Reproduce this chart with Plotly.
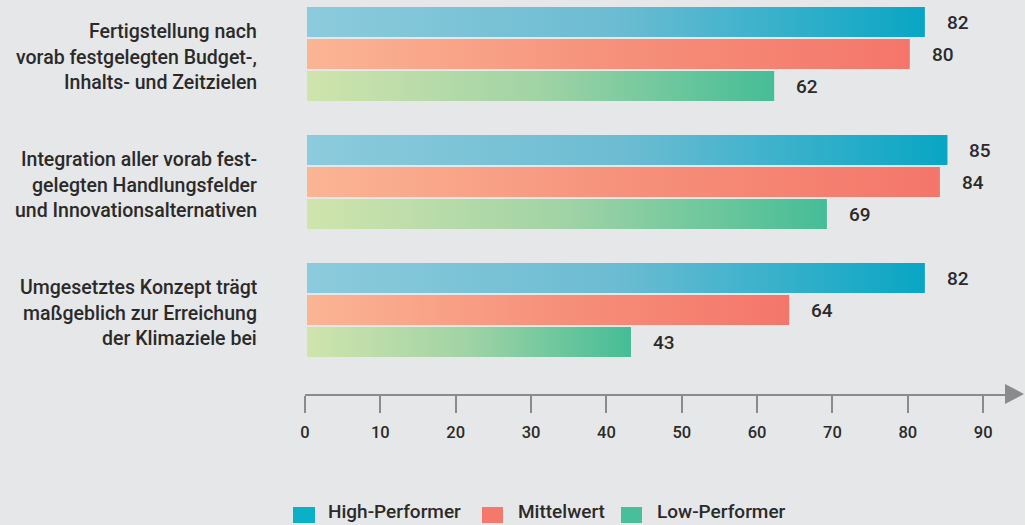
import plotly.graph_objects as go

# Data
categories = [
    "Fertigstellung nach<br>vorab festgelegten Budget-,<br>Inhalts- und Zeitzielen",
    "Integration aller vorab fest-<br>gelegten Handlungsfelder<br>und Innovationsalternativen",
    "Umgesetztes Konzept trägt<br>maßgeblich zur Erreichung<br>der Klimaziele bei",
]
series_names = ["High-Performer", "Mittelwert", "Low-Performer"]
high_performer = [82, 85, 82]
mittelwert = [80, 84, 64]
low_performer = [62, 69, 43]
tick_values = [0, 10, 20, 30, 40, 50, 60, 70, 80, 90]

series_values = [high_performer, mittelwert, low_performer]

# Styling
W, H = 1025, 525
ML, MR, MT, MB = 305, 15, 0, 131
PX_PER_UNIT = 7.535
BAR_INSET_PX = 2          # bars begin just right of the axis origin
BG = "#e6e7e9"
TEXT = "#2b2a29"
AXIS = "#8a8b8d"
FONT = "Roboto"

gradients = [
    [[0, "#8ccbdc"], [0.5, "#6cbcd2"], [1, "#08a6c4"]],
    [[0, "#fbb594"], [0.5, "#f6917b"], [1, "#f4766a"]],
    [[0, "#d0e4ad"], [0.5, "#a0d3a5"], [1, "#45bd96"]],
]
legend_colors = ["#0ab1c6", "#f4786c", "#48bf9b"]

GROUP_PITCH = 4      # y units between category groups
BAR_HEIGHT = 0.9375  # y units (1 unit = one bar slot)

plot_w = W - ML - MR
plot_h = H - MT - MB
x_max = plot_w / PX_PER_UNIT
inset = BAR_INSET_PX / PX_PER_UNIT
slot_px = 32
top_center_px = 22
y_top = -top_center_px / slot_px
y_bottom = y_top + plot_h / slot_px

fig = go.Figure()

# Empty trace that registers the tick axis (x) with the subplot
fig.add_trace(go.Scatter(x=[0], y=[0], xaxis="x", yaxis="y", mode="none",
                         hoverinfo="skip", showlegend=False))

# Horizontal gradient bars, one trace per bar so each gets its own gradient
for g, cat in enumerate(categories):
    for s, vals in enumerate(series_values):
        v = vals[g]
        yc = g * GROUP_PITCH + s
        y0, y1 = yc - BAR_HEIGHT / 2, yc + BAR_HEIGHT / 2
        fig.add_trace(go.Scatter(
            x=[0, v, v, 0, 0],
            y=[y0, y0, y1, y1, y0],
            xaxis="x2", yaxis="y",
            mode="lines",
            fill="toself",
            fillgradient=dict(type="horizontal", colorscale=gradients[s]),
            line=dict(width=0),
            hoverinfo="skip",
            showlegend=False,
            name=series_names[s],
        ))
        fig.add_annotation(
            x=v, y=yc, xref="x2", yref="y",
            text=str(v), showarrow=False,
            xanchor="left", yanchor="middle", xshift=20,
            font=dict(family=FONT, size=19, color=TEXT, weight=500),
        )

# Category labels, one annotation per line for fixed line spacing
LINE_PX = 25.5
label_right_px = 259
for g, cat in enumerate(categories):
    lines = cat.split("<br>")
    yc = g * GROUP_PITCH + 1
    n = len(lines)
    for i, line in enumerate(lines):
        offset = (i - (n - 1) / 2) * LINE_PX
        fig.add_annotation(
            x=(label_right_px - ML) / plot_w, y=yc,
            xref="paper", yref="y",
            text=line, showarrow=False,
            xanchor="right", yanchor="middle",
            yshift=-offset - 3,
            font=dict(family=FONT, size=19.5, color=TEXT, weight=500),
        )

# Arrow head at the end of the x axis
def px_to_paper(px, py):
    return (px - ML) / plot_w, 1 - (py - MT) / plot_h

ax_y = MT + plot_h
b1 = px_to_paper(1005, ax_y - 10)
b2 = px_to_paper(1005, ax_y + 10)
tip = px_to_paper(1024, ax_y)
fig.add_shape(
    type="path", xref="paper", yref="paper",
    path=f"M {b1[0]},{b1[1]} L {tip[0]},{tip[1]} L {b2[0]},{b2[1]} Z",
    fillcolor=AXIS, line=dict(width=0),
)

# Legend drawn as swatches and text along the bottom
legend_items = [(293, 315, 326), (482, 503, 516), (621, 642, 655)]
for (sx0, sx1, tx), name, col in zip(legend_items, series_names, legend_colors):
    p0 = px_to_paper(sx0, 507)
    p1 = px_to_paper(sx1, 523)
    fig.add_shape(
        type="rect", xref="paper", yref="paper",
        x0=p0[0], x1=p1[0], y0=p1[1], y1=p0[1],
        fillcolor=col, line=dict(width=0),
    )
    pt = px_to_paper(tx, 512)
    fig.add_annotation(
        x=pt[0], y=pt[1], xref="paper", yref="paper",
        text=name, showarrow=False, xanchor="left", yanchor="middle",
        font=dict(family=FONT, size=19, color=TEXT, weight=500),
    )

fig.update_layout(
    width=W, height=H,
    margin=dict(l=ML, r=MR, t=MT, b=MB),
    paper_bgcolor=BG, plot_bgcolor=BG,
    showlegend=False,
    xaxis=dict(
        range=[0, x_max],
        tickvals=tick_values,
        ticktext=[str(t) for t in tick_values],
        ticks="outside", ticklen=17, tickwidth=1.5, tickcolor=AXIS,
        ticklabelstandoff=5,
        showline=True, linecolor=AXIS, linewidth=2,
        showgrid=False, zeroline=False,
        tickfont=dict(family=FONT, size=16.5, color=TEXT, weight=500),
        fixedrange=True,
    ),
    xaxis2=dict(
        range=[-inset, x_max - inset],
        overlaying="x", visible=False,
        showgrid=False, zeroline=False, fixedrange=True,
    ),
    yaxis=dict(
        range=[y_bottom, y_top],
        showticklabels=False, showgrid=False, zeroline=False,
        showline=False, ticks="",
        fixedrange=True,
    ),
)

fig.write_html("out.html")
